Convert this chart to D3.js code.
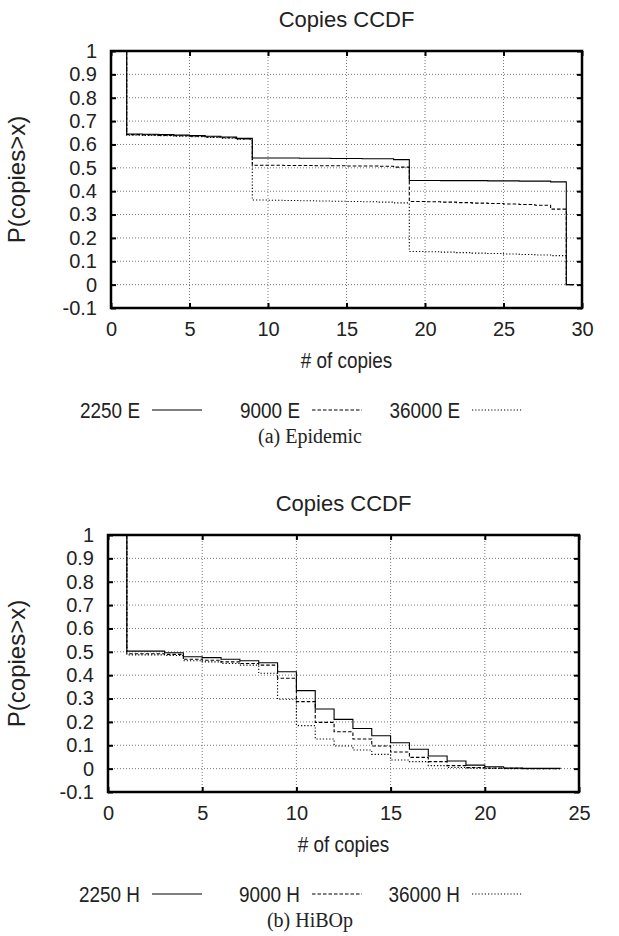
<!DOCTYPE html>
<html>
<head>
<meta charset="utf-8">
<script src="https://cdn.jsdelivr.net/npm/d3@7"></script>
<style>
  body { margin: 0; background: #fff; }
  text { font-family: "Liberation Sans", Arial, Helvetica, sans-serif; fill: #222; }
</style>
</head>
<body>
<script>
// copies (x) where each step starts
var epidemicCopies = [1,2,3,4,5,6,7,8,9,10,11,12,13,14,15,16,17,18,19,20,21,22,23,24,25,26,27,28,29,29.5];
var epidemic2250 = [0.645,0.644,0.642,0.640,0.638,0.635,0.632,0.626,0.542,0.542,0.542,0.541,0.541,0.540,0.540,0.539,0.539,0.535,0.446,0.446,0.445,0.445,0.445,0.444,0.444,0.443,0.443,0.440,0,0];
var epidemic9000 = [0.642,0.641,0.639,0.637,0.635,0.632,0.629,0.624,0.511,0.511,0.510,0.510,0.509,0.509,0.508,0.508,0.507,0.503,0.356,0.355,0.353,0.351,0.349,0.347,0.345,0.343,0.340,0.323,0,0];
var epidemic36000 = [0.640,0.639,0.637,0.635,0.633,0.630,0.627,0.622,0.362,0.361,0.360,0.359,0.358,0.357,0.356,0.355,0.353,0.350,0.142,0.141,0.139,0.137,0.135,0.133,0.131,0.129,0.127,0.124,0,0];

var hibopCopies = [1,2,3,4,5,6,7,8,9,10,11,12,13,14,15,16,17,18,19,20,21,22,23,24];
var hibop2250 = [0.503,0.503,0.496,0.479,0.475,0.468,0.462,0.453,0.415,0.334,0.255,0.211,0.172,0.141,0.111,0.083,0.054,0.033,0.015,0.008,0.003,0.001,0.001,0];
var hibop9000 = [0.492,0.492,0.489,0.468,0.464,0.457,0.450,0.443,0.387,0.287,0.198,0.158,0.127,0.097,0.071,0.048,0.030,0.013,0.005,0.002,0.001,0,0,0];
var hibop36000 = [0.487,0.487,0.484,0.462,0.457,0.450,0.443,0.408,0.297,0.184,0.127,0.097,0.080,0.061,0.037,0.030,0.013,0.005,0.002,0.001,0,0,0,0];

var yTicks = [-0.1,0,0.1,0.2,0.3,0.4,0.5,0.6,0.7,0.8,0.9,1];
var yTickLabels = ["-0.1","0","0.1","0.2","0.3","0.4","0.5","0.6","0.7","0.8","0.9","1"];
var epidemicXTicks = [0,5,10,15,20,25,30];
var hibopXTicks = [0,5,10,15,20,25];
var epidemicNames = ["2250 E","9000 E","36000 E"];
var hibopNames = ["2250 H","9000 H","36000 H"];

var dashes = [null, "3.5,2", "1.2,2"];

var svg = d3.select("body").append("svg")
    .attr("width", 619)
    .attr("height", 936)
svg.append("rect").attr("width", 619).attr("height", 936).attr("fill", "#fff")

// gnuplot text looks horizontally squeezed
function label(g, x, y, str, size, anchor, sx, rot) {
  return g.append("text")
    .attr("transform", "translate(" + x + "," + y + ")" + (rot ? " rotate(" + rot + ")" : "") + " scale(" + sx + ",1)")
    .attr("text-anchor", anchor)
    .attr("font-size", size)
    .text(str)
}

function drawPanel(p) {
  var g = svg.append("g")
  var x = d3.scaleLinear().domain([0, p.xTicks[p.xTicks.length-1]]).range([p.left, p.right])
  var y = d3.scaleLinear().domain([-0.1, 1]).range([p.bottom, p.top])

  /* grid */
  g.selectAll(".gx").data(p.xTicks.slice(1, -1)).enter().append("line")
    .attr("x1", function (d) { return x(d) }).attr("x2", function (d) { return x(d) })
    .attr("y1", p.top).attr("y2", p.bottom)
    .attr("stroke", "#555").attr("stroke-width", 0.8).attr("stroke-dasharray", "1,2")
  g.selectAll(".gy").data(yTicks.slice(1, -1)).enter().append("line")
    .attr("x1", p.left).attr("x2", p.right)
    .attr("y1", function (d) { return y(d) }).attr("y2", function (d) { return y(d) })
    .attr("stroke", "#555").attr("stroke-width", 0.8).attr("stroke-dasharray", "1,2")

  /* step lines */
  var line = d3.line()
    .x(function (d) { return x(d[0]) })
    .y(function (d) { return y(d[1]) })
    .curve(d3.curveStepAfter)
  p.series.forEach(function (s, i) {
    var pts = [[p.copies[0], 1]].concat(p.copies.map(function (c, k) { return [c, s[k]] }))
    g.append("path").datum(pts)
      .attr("d", line)
      .attr("fill", "none")
      .attr("stroke", "#000")
      .attr("stroke-width", 1.1)
      .attr("stroke-dasharray", dashes[i])
  })

  /* axes: ticks inside on all sides */
  var tl = 5
  g.append("g").attr("transform", "translate(0," + p.bottom + ")")
    .call(d3.axisBottom(x).tickValues(p.xTicks).tickSizeInner(-tl).tickSizeOuter(0).tickPadding(14))
  g.append("g").attr("transform", "translate(0," + p.top + ")")
    .call(d3.axisTop(x).tickValues(p.xTicks).tickSizeInner(-tl).tickSizeOuter(0).tickFormat(""))
  g.append("g").attr("transform", "translate(" + p.left + ",0)")
    .call(d3.axisLeft(y).tickValues(yTicks).tickSizeInner(-tl).tickSizeOuter(0).tickPadding(14)
      .tickFormat(function (d, i) { return yTickLabels[i] }))
  g.append("g").attr("transform", "translate(" + p.right + ",0)")
    .call(d3.axisRight(y).tickValues(yTicks).tickSizeInner(-tl).tickSizeOuter(0).tickFormat(""))
  g.selectAll(".domain").remove()
  g.selectAll(".tick line").attr("stroke", "#000").attr("stroke-width", 2)
  g.selectAll(".tick text").attr("font-size", 20).attr("font-family", "Liberation Sans, Arial, sans-serif").attr("fill", "#222")

  g.append("rect")
    .attr("x", p.left).attr("y", p.top)
    .attr("width", p.right - p.left).attr("height", p.bottom - p.top)
    .attr("fill", "none").attr("stroke", "#000").attr("stroke-width", 2.5)

  /* texts */
  var cx = (p.left + p.right) / 2
  label(g, cx, p.top - 24, "Copies CCDF", 22, "middle", 1)
  label(g, cx, p.bottom + 60, "# of copies", 22, "middle", 0.86)
  label(g, 25, (p.top + p.bottom) / 2, "P(copies>x)", 24, "middle", 1, -90)

  /* legend */
  var ly = p.bottom + 102
  var textEnd = [140, 300, 460]
  p.names.forEach(function (n, i) {
    label(g, textEnd[i], ly + 8, n, 22, "end", 0.86)
    g.append("line")
      .attr("x1", textEnd[i] + 12).attr("x2", textEnd[i] + 62)
      .attr("y1", ly).attr("y2", ly)
      .attr("stroke", "#000").attr("stroke-width", 1.1)
      .attr("stroke-dasharray", dashes[i])
  })

  g.append("text")
    .attr("x", 310).attr("y", p.bottom + 135)
    .attr("text-anchor", "middle")
    .attr("font-size", 20)
    .style("font-family", "Liberation Serif, Times New Roman, serif")
    .text(p.caption)
}

drawPanel({
  left: 111, right: 582, top: 51, bottom: 308,
  xTicks: epidemicXTicks, copies: epidemicCopies,
  series: [epidemic2250, epidemic9000, epidemic36000],
  names: epidemicNames, caption: "(a)  Epidemic"
})
drawPanel({
  left: 108, right: 579, top: 535, bottom: 792,
  xTicks: hibopXTicks, copies: hibopCopies,
  series: [hibop2250, hibop9000, hibop36000],
  names: hibopNames, caption: "(b)  HiBOp"
})
</script>
</body>
</html>
